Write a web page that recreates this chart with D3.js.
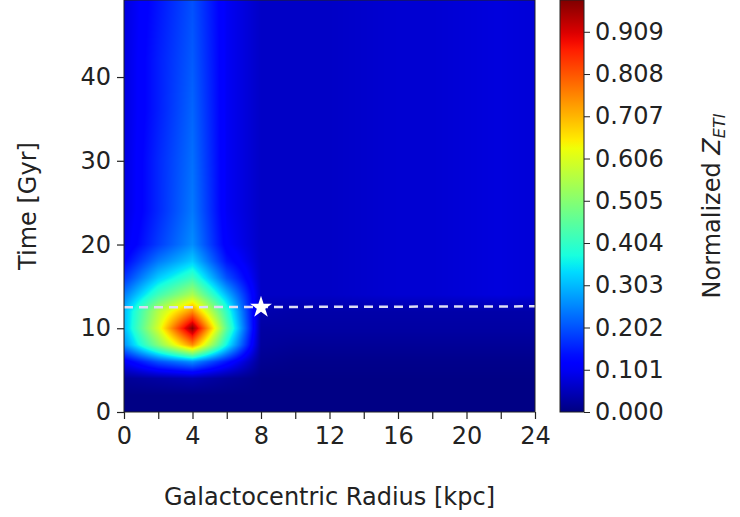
<!DOCTYPE html>
<html><head><meta charset="utf-8">
<script src="https://cdn.jsdelivr.net/npm/d3@7"></script>
<style>body{margin:0;background:#fff}text{font-family:"DejaVu Sans",sans-serif}</style>
</head><body><div id="chart"></div>
<script>
// radius grid (kpc) and time grid (Gyr)
const radii = [0, 2, 4, 6, 8, 10, 12, 14, 16, 18, 20, 22, 24];
const times = [0, 2, 4, 6, 8, 10, 12, 14, 16, 18, 20, 24, 30, 36, 42, 49.2];
// normalized Z_ETI, one row per time
const zeti = [
  [0.005, 0.005, 0.005, 0.005, 0.005, 0.005, 0.005, 0.005, 0.005, 0.005, 0.005, 0.005, 0.005],
  [0.005, 0.005, 0.005, 0.005, 0.005, 0.005, 0.005, 0.005, 0.005, 0.005, 0.005, 0.005, 0.005],
  [0.02, 0.03, 0.04, 0.02, 0.005, 0.005, 0.005, 0.005, 0.005, 0.005, 0.005, 0.005, 0.005],
  [0.1, 0.2, 0.26, 0.14, 0.015, 0.01, 0.01, 0.01, 0.01, 0.01, 0.01, 0.01, 0.01],
  [0.26, 0.5, 0.75, 0.36, 0.025, 0.02, 0.02, 0.02, 0.02, 0.02, 0.02, 0.02, 0.02],
  [0.3, 0.6, 0.98, 0.45, 0.03, 0.03, 0.03, 0.03, 0.03, 0.03, 0.03, 0.03, 0.03],
  [0.3, 0.56, 0.75, 0.4, 0.04, 0.035, 0.035, 0.035, 0.035, 0.035, 0.035, 0.035, 0.035],
  [0.24, 0.42, 0.55, 0.3, 0.06, 0.06, 0.06, 0.065, 0.07, 0.07, 0.075, 0.08, 0.075],
  [0.17, 0.32, 0.42, 0.2, 0.06, 0.06, 0.06, 0.065, 0.07, 0.07, 0.075, 0.08, 0.075],
  [0.12, 0.24, 0.32, 0.14, 0.06, 0.06, 0.06, 0.065, 0.07, 0.07, 0.075, 0.08, 0.075],
  [0.09, 0.18, 0.26, 0.11, 0.06, 0.06, 0.06, 0.065, 0.07, 0.07, 0.075, 0.08, 0.075],
  [0.08, 0.16, 0.24, 0.1, 0.06, 0.06, 0.06, 0.065, 0.07, 0.07, 0.075, 0.08, 0.075],
  [0.08, 0.16, 0.23, 0.1, 0.06, 0.06, 0.06, 0.065, 0.07, 0.07, 0.075, 0.08, 0.075],
  [0.08, 0.15, 0.22, 0.1, 0.06, 0.06, 0.06, 0.065, 0.07, 0.07, 0.075, 0.08, 0.075],
  [0.08, 0.15, 0.21, 0.1, 0.06, 0.06, 0.06, 0.065, 0.07, 0.07, 0.075, 0.08, 0.075],
  [0.08, 0.14, 0.2, 0.1, 0.06, 0.06, 0.06, 0.065, 0.07, 0.07, 0.075, 0.08, 0.075]
];
const sunRadius = 8, sunTime = 12.5;
const xTicks = [0, 4, 8, 12, 16, 20, 24];
const yTicks = [0, 10, 20, 30, 40];
const cbTicks = [0, 0.101, 0.202, 0.303, 0.404, 0.505, 0.606, 0.707, 0.808, 0.909];
const vmax = 0.985;

const W = 740, H = 517;
const m = {l: 124, r: 535, t: 0, b: 412};
const x = d3.scaleLinear().domain([0, 24]).range([m.l, m.r]);
const y = d3.scaleLinear().domain([0, 49.2]).range([m.b, m.t]);

// jet colormap
const ch = (d, r) => d3.scaleLinear().domain(d).range(r).clamp(true);
const jr = ch([0, 0.35, 0.66, 0.89, 1], [0, 0, 1, 1, 0.5]);
const jg = ch([0, 0.125, 0.375, 0.64, 0.91, 1], [0, 0, 1, 1, 0, 0]);
const jb = ch([0, 0.11, 0.34, 0.65, 1], [0.5, 1, 1, 0, 0]);
const jet = t => [jr(t) * 255, jg(t) * 255, jb(t) * 255];

const svg = d3.select("#chart").append("svg").attr("width", W).attr("height", H);

// heatmap raster
const pw = m.r - m.l, ph = m.b - m.t;
const cv = document.createElement("canvas");
cv.width = pw; cv.height = ph;
const ctx = cv.getContext("2d");
const img = ctx.createImageData(pw, ph);
const ri = d3.scaleLinear().domain(radii).range(d3.range(radii.length));
const ti = d3.scaleLinear().domain(times).range(d3.range(times.length)).clamp(true);
for (let py = 0; py < ph; py++) {
  const fy = ti(y.invert(py + m.t + 0.5));
  const y0 = Math.min(Math.floor(fy), times.length - 2), wy = fy - y0;
  for (let px = 0; px < pw; px++) {
    const fx = ri(x.invert(px + m.l + 0.5));
    const x0 = Math.min(Math.floor(fx), radii.length - 2), wx = fx - x0;
    const v = (zeti[y0][x0] * (1 - wx) + zeti[y0][x0 + 1] * wx) * (1 - wy) +
              (zeti[y0 + 1][x0] * (1 - wx) + zeti[y0 + 1][x0 + 1] * wx) * wy;
    const c = jet(v / vmax), k = (py * pw + px) * 4;
    img.data[k] = c[0]; img.data[k + 1] = c[1]; img.data[k + 2] = c[2]; img.data[k + 3] = 255;
  }
}
ctx.putImageData(img, 0, 0);
svg.append("image").attr("x", m.l).attr("y", m.t).attr("width", pw).attr("height", ph)
   .attr("href", cv.toDataURL());

// sun line + star
svg.append("line").attr("x1", x(0)).attr("x2", x(24)).attr("y1", y(sunTime)).attr("y2", y(sunTime) - 1)
   .attr("stroke", "#dcdcf5").attr("stroke-width", 2.5).attr("stroke-dasharray", "9,6");
svg.append("path").attr("d", d3.symbol(d3.symbolStar, 150)())
   .attr("transform", `translate(${x(sunRadius)},${y(sunTime)})`).attr("fill", "#fff");

svg.append("rect").attr("x", m.l).attr("y", m.t).attr("width", pw).attr("height", ph)
   .attr("fill", "none").attr("stroke", "#222").attr("stroke-width", 1);

// axes
const xa = svg.append("g").attr("transform", `translate(0,${m.b})`)
  .call(d3.axisBottom(x).tickValues(d3.range(0, 25, 2)).tickSize(7).tickPadding(8)
        .tickFormat(d => xTicks.includes(d) ? d : ""));
const ya = svg.append("g").attr("transform", `translate(${m.l},0)`)
  .call(d3.axisLeft(y).tickValues(yTicks).tickSize(7).tickPadding(6));
[xa, ya].forEach(a => {
  a.select(".domain").remove();
  a.selectAll("line").attr("stroke", "#222").attr("stroke-width", 1.2);
  a.selectAll("text").attr("font-size", 24).attr("fill", "#222");
});

svg.append("text").attr("x", x(12)).attr("y", 505).attr("text-anchor", "middle")
   .attr("font-size", 24).attr("fill", "#222").text("Galactocentric Radius [kpc]");
svg.append("text").attr("transform", `translate(36,${(m.t + m.b) / 2}) rotate(-90)`)
   .attr("text-anchor", "middle").attr("font-size", 24).attr("fill", "#222").text("Time [Gyr]");

// colorbar
const cb = {x: 560, w: 24};
const cy = d3.scaleLinear().domain([0, vmax]).range([m.b, m.t]);
const grad = svg.append("defs").append("linearGradient").attr("id", "jet")
  .attr("x1", 0).attr("x2", 0).attr("y1", 1).attr("y2", 0);
d3.range(0, 1.001, 0.02).forEach(t => {
  const c = jet(t);
  grad.append("stop").attr("offset", t).attr("stop-color", d3.rgb(c[0], c[1], c[2]));
});
svg.append("rect").attr("x", cb.x).attr("y", m.t).attr("width", cb.w).attr("height", ph)
   .attr("fill", "url(#jet)").attr("stroke", "#222");
const ca = svg.append("g").attr("transform", `translate(${cb.x + cb.w},0)`)
  .call(d3.axisRight(cy).tickValues(cbTicks).tickSize(6).tickPadding(5).tickFormat(d3.format(".3f")));
ca.select(".domain").remove();
ca.selectAll("line").attr("stroke", "#222");
ca.selectAll("text").attr("font-size", 24).attr("fill", "#222");

const lab = svg.append("text").attr("transform", `translate(720,${(m.t + m.b) / 2}) rotate(-90)`)
  .attr("text-anchor", "middle").attr("font-size", 24).attr("fill", "#222");
lab.append("tspan").text("Normalized ");
lab.append("tspan").attr("font-style", "italic").text("Z");
lab.append("tspan").attr("font-style", "italic").attr("font-size", 16).attr("dy", 5).text("ETI");
</script></body></html>
